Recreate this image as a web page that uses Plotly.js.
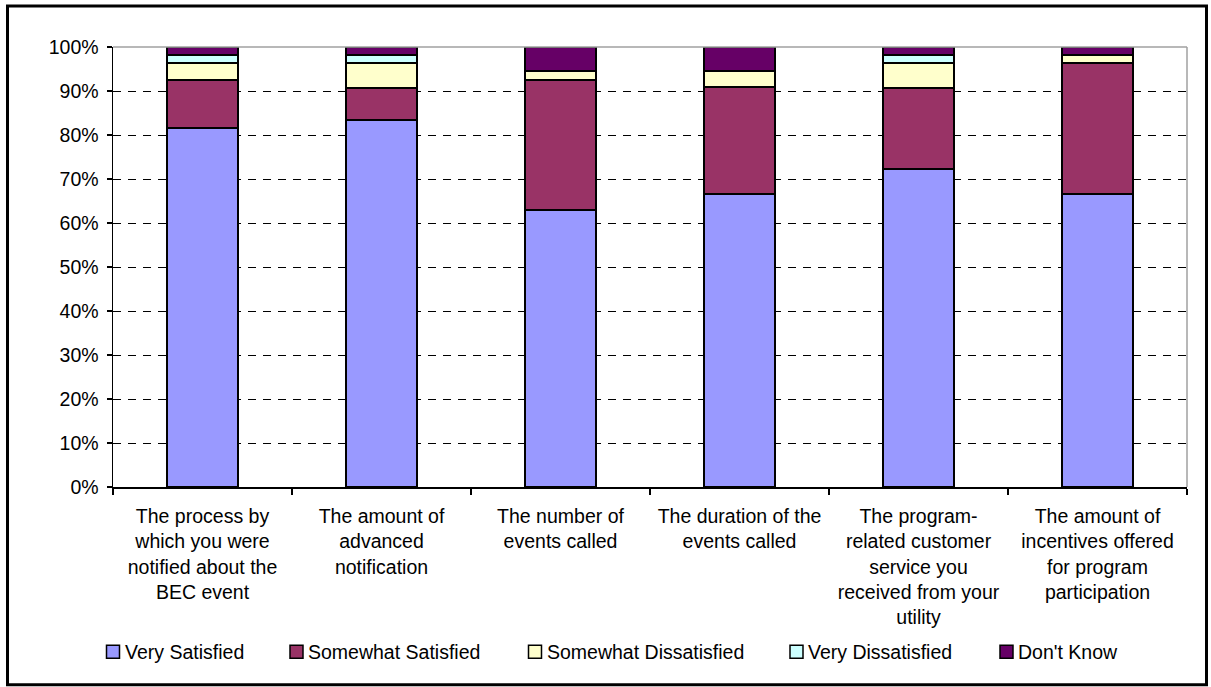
<!DOCTYPE html>
<html>
<head>
<meta charset="utf-8">
<script src="https://cdn.plot.ly/plotly-3.0.1.min.js"></script>
<style>
  html, body { margin: 0; padding: 0; background: #ffffff; }
  #chart { width: 1211px; height: 687px; }
</style>
</head>
<body>
<div id="chart"></div>
<script>
// Survey aspects (category axis), one stacked bar each
const categories = [
  "The process by<br>which you were<br>notified about the<br>BEC event",
  "The amount of<br>advanced<br>notification",
  "The number of<br>events called",
  "The duration of the<br>events called",
  "The program-<br>related customer<br>service you<br>received from your<br>utility",
  "The amount of<br>incentives offered<br>for program<br>participation"
];

// Share of respondents (%) per satisfaction level
const verySatisfied        = [81.5, 83.3, 63.0, 66.7, 72.2, 66.7];
const somewhatSatisfied    = [11.1,  7.4, 29.6, 24.1, 18.5, 29.6];
const somewhatDissatisfied = [ 3.7,  5.6,  1.9,  3.7,  5.6,  1.9];
const veryDissatisfied     = [ 1.9,  1.9,  0.0,  0.0,  1.9,  0.0];
const dontKnow             = [ 1.9,  1.9,  5.6,  5.6,  1.9,  1.9];

const seriesNames  = ["Very Satisfied", "Somewhat Satisfied", "Somewhat Dissatisfied", "Very Dissatisfied", "Don't Know"];
const seriesValues = [verySatisfied, somewhatSatisfied, somewhatDissatisfied, veryDissatisfied, dontKnow];
const seriesColors = ["#9999FF", "#993366", "#FFFFCC", "#CCFFFF", "#660066"];

const yTickVals  = [0, 10, 20, 30, 40, 50, 60, 70, 80, 90, 100];
const yTickTexts = ["0%", "10%", "20%", "30%", "40%", "50%", "60%", "70%", "80%", "90%", "100%"];

const FONT = "Arial, 'Liberation Sans', sans-serif";
const FONT_SIZE = 19.5;
const W = 1211, H = 687;
const M = { l: 113, r: 24, t: 46.5, b: 200 };
const plotW = W - M.l - M.r, plotH = H - M.t - M.b;
// pixel -> paper coordinate helpers
const px = x => (x - M.l) / plotW;
const py = y => (H - M.b - y) / plotH;

// Legend row layout (left edge of each key square, in pixels)
const legendKeyLeft = [106.5, 290, 528.5, 790, 1000];
const legendKeySize = 13;
const legendRowY = 652;
const legendTextGap = 18;

const traces = seriesNames.map((name, i) => ({
  type: "bar",
  name: name,
  x: categories,
  y: seriesValues[i],
  marker: { color: seriesColors[i], line: { color: "#000000", width: 2 } },
  hoverinfo: "name+y",
  showlegend: false
}));

const shapes = [
  // plot-area frame on top and right
  { type: "line", xref: "paper", yref: "paper", x0: 0, x1: 1, y0: 1, y1: 1,
    line: { color: "#a0a0a0", width: 1.5 }, layer: "above" },
  { type: "line", xref: "paper", yref: "paper", x0: 1, x1: 1, y0: 0, y1: 1,
    line: { color: "#a0a0a0", width: 1.5 }, layer: "above" },
  // outer chart border
  { type: "rect", xref: "paper", yref: "paper",
    x0: px(7.5), x1: px(1206.5), y0: py(685), y1: py(5.5),
    line: { color: "#000000", width: 3 }, fillcolor: "rgba(0,0,0,0)", layer: "above" }
];
const annotations = [];

// Legend: key squares and labels
seriesNames.forEach((name, i) => {
  const left = legendKeyLeft[i];
  shapes.push({
    type: "rect", xref: "paper", yref: "paper",
    x0: px(left), x1: px(left + legendKeySize),
    y0: py(legendRowY + legendKeySize / 2), y1: py(legendRowY - legendKeySize / 2),
    fillcolor: seriesColors[i], line: { color: "#000000", width: 1.5 }, layer: "above"
  });
  annotations.push({
    xref: "paper", yref: "paper",
    x: px(left + legendTextGap - 2), y: py(legendRowY),
    xanchor: "left", yanchor: "middle",
    text: name, showarrow: false,
    font: { family: FONT, size: FONT_SIZE, color: "#000000" }
  });
});

const layout = {
  width: W,
  height: H,
  margin: M,
  paper_bgcolor: "#ffffff",
  plot_bgcolor: "#ffffff",
  barmode: "stack",
  bargap: 0.6,
  showlegend: false,
  font: { family: FONT, size: FONT_SIZE, color: "#000000" },
  xaxis: {
    type: "category",
    showgrid: false,
    showline: true,
    linecolor: "#000000",
    linewidth: 1.5,
    ticks: "outside",
    tickson: "boundaries",
    ticklen: 6,
    tickcolor: "#000000",
    tickwidth: 1.5,
    tickangle: 0,
    ticklabelstandoff: 11,
    tickfont: { family: FONT, size: FONT_SIZE, color: "#000000" },
    fixedrange: true
  },
  yaxis: {
    range: [0, 100],
    tickvals: yTickVals,
    ticktext: yTickTexts,
    showgrid: true,
    gridcolor: "#000000",
    gridwidth: 1,
    griddash: "8px,7px",
    showline: true,
    linecolor: "#000000",
    linewidth: 1.5,
    ticks: "outside",
    ticklen: 5,
    tickcolor: "#000000",
    tickwidth: 1.5,
    ticklabelstandoff: 4,
    tickfont: { family: FONT, size: FONT_SIZE, color: "#000000" },
    zeroline: false,
    fixedrange: true
  },
  shapes: shapes,
  annotations: annotations
};

Plotly.newPlot("chart", traces, layout, { displayModeBar: false, staticPlot: true });
</script>
</body>
</html>
